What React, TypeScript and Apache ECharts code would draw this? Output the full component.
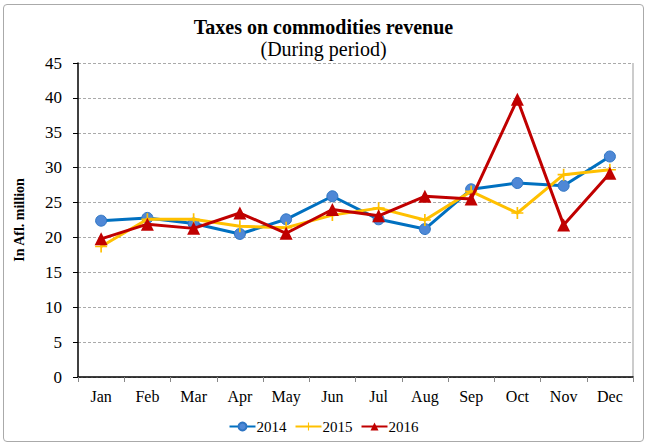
import React, { useEffect, useRef } from "react";
import * as echarts from "echarts";

const months = ["Jan", "Feb", "Mar", "Apr", "May", "Jun", "Jul", "Aug", "Sep", "Oct", "Nov", "Dec"];
const s2014 = [22.4, 22.8, 22.0, 20.5, 22.6, 25.9, 22.6, 21.2, 26.9, 27.8, 27.4, 31.6];
const s2015 = [18.7, 22.6, 22.6, 21.6, 21.4, 23.2, 24.2, 22.5, 26.6, 23.5, 29.0, 29.7];
const s2016 = [19.8, 21.9, 21.3, 23.5, 20.6, 24.0, 23.1, 25.9, 25.5, 39.8, 21.8, 29.2];
const yTicks = { min: 0, max: 45, interval: 5 };

const FONT = "Liberation Serif, Times New Roman, serif";
const PLUS = "path://M4.3,0 L5.7,0 L5.7,4.3 L10,4.3 L10,5.7 L5.7,5.7 L5.7,10 L4.3,10 L4.3,5.7 L0,5.7 L0,4.3 L4.3,4.3 Z";

export default function App() {
  const ref = useRef<HTMLDivElement>(null);
  useEffect(() => {
    const chart = echarts.init(ref.current!, null, { renderer: "svg" });
    chart.setOption({
      animation: false,
      backgroundColor: "#fff",
      textStyle: { fontFamily: FONT, color: "#000" },
      title: {
        text: "Taxes on commodities revenue",
        subtext: "(During period)",
        left: "center",
        top: 12,
        itemGap: 2,
        textStyle: { fontFamily: FONT, fontSize: 20, fontWeight: "bold", color: "#000" },
        subtextStyle: { fontFamily: FONT, fontSize: 20, color: "#000" },
      },
      grid: { left: 78, right: 14, top: 63, bottom: 68 },
      legend: {
        bottom: 6,
        left: "center",
        itemWidth: 26,
        itemHeight: 10,
        itemGap: 8,
        textStyle: { fontFamily: FONT, fontSize: 15, color: "#000", padding: [0, 0, 0, -4] },
        data: ["2014", "2015", "2016"],
      },
      xAxis: {
        type: "category",
        data: months,
        boundaryGap: true,
        axisLine: { lineStyle: { color: "#000", width: 1.5 } },
        axisTick: { show: true, length: 5, inside: false, lineStyle: { color: "#888" } },
        axisLabel: { fontFamily: FONT, fontSize: 16, color: "#000", margin: 11 },
      },
      yAxis: {
        type: "value",
        min: yTicks.min,
        max: yTicks.max,
        interval: yTicks.interval,
        name: "In Afl. million",
        nameLocation: "middle",
        nameGap: 52,
        nameTextStyle: { fontFamily: FONT, fontSize: 14, fontWeight: "bold", color: "#000" },
        axisLine: { show: true, lineStyle: { color: "#000", width: 1.5 } },
        axisTick: { show: true, length: 5, lineStyle: { color: "#000" } },
        axisLabel: { fontFamily: FONT, fontSize: 17, color: "#000", margin: 16 },
        splitLine: { lineStyle: { color: "#aaa", type: [3, 2], width: 1 } },
      },
      graphic: [
        { type: "line", shape: { x1: 633, y1: 63, x2: 633, y2: 377 }, style: { stroke: "#999", lineWidth: 1 } },
      ],
      series: [
        {
          name: "2014",
          type: "line",
          data: s2014,
          symbol: "circle",
          symbolSize: 11,
          lineStyle: { color: "#0070C0", width: 3 },
          itemStyle: { color: "#4F88D6", borderColor: "#2E75C4", borderWidth: 1 },
          z: 2,
        },
        {
          name: "2015",
          type: "line",
          data: s2015,
          symbol: PLUS,
          symbolSize: 12,
          lineStyle: { color: "#FFC000", width: 3 },
          itemStyle: { color: "#FFC000" },
          z: 3,
        },
        {
          name: "2016",
          type: "line",
          data: s2016,
          symbol: "triangle",
          symbolSize: 13,
          lineStyle: { color: "#C00000", width: 3 },
          itemStyle: { color: "#C00000" },
          z: 4,
        },
      ],
    });
    return () => chart.dispose();
  }, []);
  return (
    <div
      style={{
        position: "fixed",
        left: 0,
        top: 0,
        width: 647,
        height: 445,
        background: "#fff",
      }}
    >
      <div
        style={{
          position: "absolute",
          left: 3,
          top: 4,
          width: 639,
          height: 436,
          border: "1px solid #aaa",
          borderRadius: 4,
          pointerEvents: "none",
          zIndex: 2,
        }}
      />
      <div ref={ref} style={{ position: "absolute", left: 0, top: 0, width: 647, height: 445 }} />
    </div>
  );
}
